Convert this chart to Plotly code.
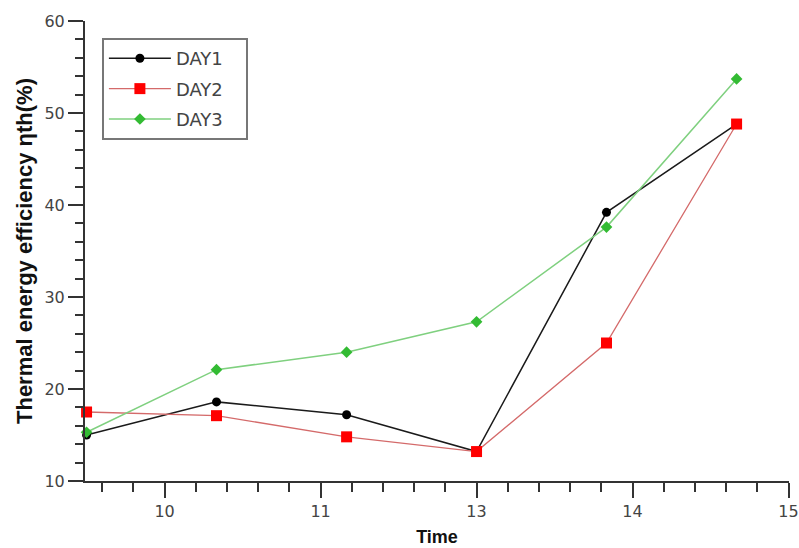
import plotly.graph_objects as go

# Time positions on the plotted axis (as drawn in the reference)
time_pos = [9.5, 10.333, 11.167, 12.0, 12.833, 13.667]
tick_vals = [10, 11, 12, 13, 14]
tick_text = ["10", "11", "13", "14", "15"]

day1 = [15.0, 18.6, 17.2, 13.2, 39.2, 48.8]
day2 = [17.5, 17.1, 14.8, 13.2, 25.0, 48.8]
day3 = [15.3, 22.1, 24.0, 27.3, 37.6, 53.7]

pad = "\u00a0\u00a0\u00a0"

fig = go.Figure()
fig.add_trace(go.Scatter(
    x=time_pos, y=day1, name="DAY1" + pad, mode="lines+markers", legendgroup="a",
    line=dict(color="#1a1a1a", width=1.5),
    marker=dict(symbol="circle", size=9, color="#000000"),
    cliponaxis=False))
fig.add_trace(go.Scatter(
    x=time_pos, y=day2, name="DAY2" + pad, mode="lines+markers", legendgroup="b",
    line=dict(color="#d46a6a", width=1.3),
    marker=dict(symbol="square", size=11, color="#ff0000"),
    cliponaxis=False))
fig.add_trace(go.Scatter(
    x=time_pos, y=day3, name="DAY3" + pad, mode="lines+markers", legendgroup="c",
    line=dict(color="#7fd07f", width=1.5),
    marker=dict(symbol="diamond", size=9, color="#33bb33"),
    cliponaxis=False))

axis_common = dict(
    showline=True, linecolor="#333333", linewidth=2,
    ticks="outside", tickcolor="#333333", tickwidth=1.5, ticklen=15,
    showgrid=False, zeroline=False, automargin=False,
    tickfont=dict(family="DejaVu Sans", size=16, color="#444444"),
)

fig.update_xaxes(
    range=[9.49, 14.003], tickvals=tick_vals, ticktext=tick_text,
    minor=dict(dtick=0.2, tick0=10, ticks="outside", ticklen=9,
               tickcolor="#333333", tickwidth=1.5, showgrid=False),
    title=dict(text="<b>Time</b>", font=dict(family="Liberation Sans", size=18, color="#111111"),
               standoff=10),
    **axis_common)
fig.update_yaxes(
    range=[10, 60], tickvals=[10, 20, 30, 40, 50, 60],
    minor=dict(dtick=2, tick0=10, ticks="outside", ticklen=8,
               tickcolor="#333333", tickwidth=1.5, showgrid=False),
    title=dict(text="<b>Thermal energy efficiency ηth(%)</b>",
               font=dict(family="Liberation Sans", size=22, color="#111111"),
               standoff=6),
    **axis_common)

fig.update_layout(
    width=799, height=548,
    margin=dict(l=85, r=10, t=21, b=67),
    paper_bgcolor="white", plot_bgcolor="white",
    legend=dict(x=0.024, y=0.963, xanchor="left", yanchor="top",
                bordercolor="#777777", borderwidth=2, bgcolor="white",
                font=dict(family="DejaVu Sans", size=18, color="#444444"),
                itemwidth=62, tracegroupgap=4),
    showlegend=True,
)

fig.write_html("out.html")
